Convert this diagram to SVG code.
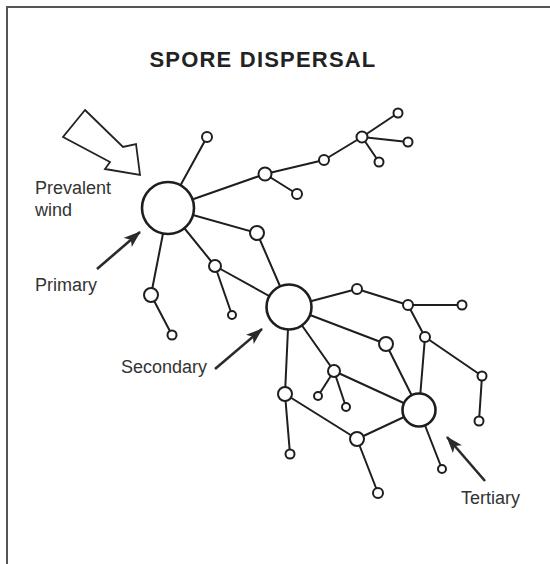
<svg xmlns="http://www.w3.org/2000/svg" width="550" height="564" viewBox="0 0 550 564">
<style>
.frame{stroke:#555;stroke-width:2;fill:none}
.edge{stroke:#1e1e1e;stroke-width:2;fill:none;stroke-linecap:round}
.node circle{fill:#fff;stroke:#1e1e1e;stroke-width:2}
.big circle{stroke-width:2.6}
.lbl{font-family:"Liberation Sans",Arial,sans-serif;font-size:18px;fill:#333}
.title{font-family:"Liberation Sans",Arial,sans-serif;font-size:22px;font-weight:bold;fill:#222}
.ptr{stroke:#2a2a2a;stroke-width:2.6;fill:none}
</style>
<defs>
<marker id="ah" markerUnits="userSpaceOnUse" markerWidth="18" markerHeight="14" refX="16" refY="7" orient="auto">
<path d="M0,1 L17,7 L0,13 L4,7 z" fill="#2a2a2a"/>
</marker>
</defs>
<rect width="550" height="564" fill="#fff"/>
<path class="frame" d="M7,564 V7 H550"/>
<text class="title" x="263" y="67" text-anchor="middle" letter-spacing="1.2">SPORE DISPERSAL</text>

<g id="wind-arrow">
<path d="M85,110 L123,147 L136,144 L140,175 L105,169 L110,162 L63,137 Z" fill="#fff" stroke="#222" stroke-width="1.8" stroke-linejoin="miter"/>
</g>

<g id="connectors">
<line class="edge" x1="168" y1="208" x2="207" y2="137"/>
<line class="edge" x1="168" y1="208" x2="265" y2="174"/>
<line class="edge" x1="168" y1="208" x2="257" y2="233"/>
<line class="edge" x1="168" y1="208" x2="215" y2="266"/>
<line class="edge" x1="168" y1="208" x2="151" y2="295"/>
<line class="edge" x1="265" y1="174" x2="297" y2="194"/>
<line class="edge" x1="265" y1="174" x2="324" y2="160"/>
<line class="edge" x1="324" y1="160" x2="362" y2="137"/>
<line class="edge" x1="362" y1="137" x2="398" y2="113"/>
<line class="edge" x1="362" y1="137" x2="408" y2="142"/>
<line class="edge" x1="362" y1="137" x2="379" y2="162"/>
<line class="edge" x1="151" y1="295" x2="172" y2="335"/>
<line class="edge" x1="215" y1="266" x2="232" y2="315"/>
<line class="edge" x1="215" y1="266" x2="289" y2="307"/>
<line class="edge" x1="257" y1="233" x2="289" y2="307"/>
<line class="edge" x1="289" y1="307" x2="357" y2="289"/>
<line class="edge" x1="289" y1="307" x2="386" y2="344"/>
<line class="edge" x1="289" y1="307" x2="334" y2="371"/>
<line class="edge" x1="289" y1="307" x2="285" y2="394"/>
<line class="edge" x1="357" y1="289" x2="408" y2="305"/>
<line class="edge" x1="408" y1="305" x2="462" y2="305"/>
<line class="edge" x1="408" y1="305" x2="425" y2="337"/>
<line class="edge" x1="425" y1="337" x2="482" y2="376"/>
<line class="edge" x1="425" y1="337" x2="419" y2="410"/>
<line class="edge" x1="482" y1="376" x2="479" y2="421"/>
<line class="edge" x1="386" y1="344" x2="419" y2="410"/>
<line class="edge" x1="334" y1="371" x2="318" y2="396"/>
<line class="edge" x1="334" y1="371" x2="346" y2="407"/>
<line class="edge" x1="334" y1="371" x2="419" y2="410"/>
<line class="edge" x1="285" y1="394" x2="290" y2="454"/>
<line class="edge" x1="285" y1="394" x2="357" y2="439"/>
<line class="edge" x1="357" y1="439" x2="378" y2="493"/>
<line class="edge" x1="357" y1="439" x2="419" y2="410"/>
<line class="edge" x1="419" y1="410" x2="442" y2="469"/>
</g>

<g id="P" class="node big"><circle cx="168" cy="208" r="26"/></g>
<g id="S" class="node big"><circle cx="289" cy="307" r="22.5"/></g>
<g id="T" class="node big"><circle cx="419" cy="410" r="16.5"/></g>
<g id="n1" class="node"><circle cx="207" cy="137" r="5"/></g>
<g id="n2" class="node"><circle cx="265" cy="174" r="6.5"/></g>
<g id="n3" class="node"><circle cx="297" cy="194" r="5"/></g>
<g id="n4" class="node"><circle cx="324" cy="160" r="5"/></g>
<g id="n5" class="node"><circle cx="362" cy="137" r="5.5"/></g>
<g id="n6" class="node"><circle cx="398" cy="113" r="4.5"/></g>
<g id="n7" class="node"><circle cx="408" cy="142" r="4.5"/></g>
<g id="n8" class="node"><circle cx="379" cy="162" r="4.5"/></g>
<g id="n9" class="node"><circle cx="257" cy="233" r="7"/></g>
<g id="n10" class="node"><circle cx="215" cy="266" r="6"/></g>
<g id="n11" class="node"><circle cx="232" cy="315" r="4"/></g>
<g id="n12" class="node"><circle cx="151" cy="295" r="7"/></g>
<g id="n13" class="node"><circle cx="172" cy="335" r="4.5"/></g>
<g id="n14" class="node"><circle cx="357" cy="289" r="5"/></g>
<g id="n15" class="node"><circle cx="408" cy="305" r="5"/></g>
<g id="n16" class="node"><circle cx="462" cy="305" r="4.5"/></g>
<g id="n17" class="node"><circle cx="425" cy="337" r="5"/></g>
<g id="n18" class="node"><circle cx="482" cy="376" r="4.5"/></g>
<g id="n19" class="node"><circle cx="479" cy="421" r="4.5"/></g>
<g id="n20" class="node"><circle cx="386" cy="344" r="7"/></g>
<g id="n21" class="node"><circle cx="334" cy="371" r="6"/></g>
<g id="n22" class="node"><circle cx="318" cy="396" r="4"/></g>
<g id="n23" class="node"><circle cx="346" cy="407" r="4"/></g>
<g id="n24" class="node"><circle cx="285" cy="394" r="7"/></g>
<g id="n25" class="node"><circle cx="290" cy="454" r="4.5"/></g>
<g id="n26" class="node"><circle cx="357" cy="439" r="7"/></g>
<g id="n27" class="node"><circle cx="378" cy="493" r="5"/></g>
<g id="n28" class="node"><circle cx="442" cy="469" r="4"/></g>

<g id="label-wind">
<text class="lbl" x="35" y="194">Prevalent</text>
<text class="lbl" x="35" y="216">wind</text>
</g>
<g id="label-primary">
<text class="lbl" x="35" y="291">Primary</text>
<line class="ptr" x1="97" y1="269" x2="140" y2="232" marker-end="url(#ah)"/>
</g>
<g id="label-secondary">
<text class="lbl" x="121" y="373">Secondary</text>
<line class="ptr" x1="215" y1="369" x2="262" y2="329" marker-end="url(#ah)"/>
</g>
<g id="label-tertiary">
<text class="lbl" x="461" y="504">Tertiary</text>
<line class="ptr" x1="485" y1="481" x2="447" y2="437" marker-end="url(#ah)"/>
</g>
</svg>
